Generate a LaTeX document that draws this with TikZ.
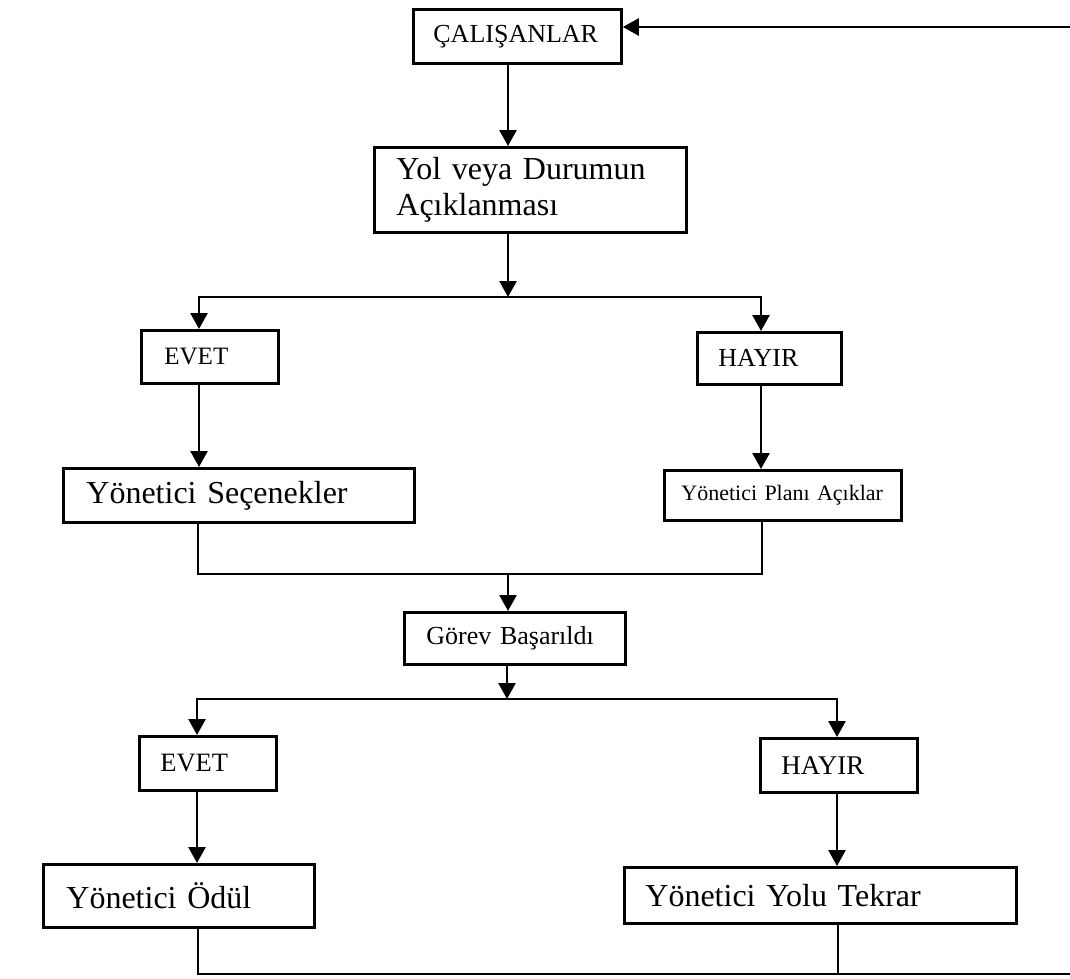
\documentclass[tikz,border=0pt]{standalone}
\usepackage{fontspec}
\setmainfont{Liberation Serif}
\usetikzlibrary{arrows.meta}
\tikzset{
  box/.style={draw, line width=2.8pt, anchor=north west, inner ysep=0pt, align=left},
  arr/.style={line width=2.6pt, -{Triangle[width=17pt,length=16pt]}},
  ln/.style={line width=2.6pt},
}
\newcommand{\fs}[1]{\fontsize{#1}{#1}\selectfont}
\begin{document}
\begin{tikzpicture}[x=1pt,y=-1pt]
\useasboundingbox (0,0) rectangle (1070,978);
\node[box, inner xsep=20pt, text width=168pt, minimum height=54pt, font=\fs{26}] (cal) at (412,8) {ÇALIŞANLAR};
\node[box, inner xsep=22pt, text width=268pt, minimum height=85pt, font={\fontsize{32}{36}\selectfont}] (yol) at (373,146) {Yol veya Durumun\\Açıklanması};
\node[box, inner xsep=23pt, text width=91pt, minimum height=53pt, font=\fs{25}] (evet1) at (140,329) {EVET};
\node[box, inner xsep=21pt, text width=102pt, minimum height=52pt, font=\fs{26}] (hayir1) at (696,331) {HAYIR};
\node[box, inner xsep=23pt, text width=305pt, minimum height=54pt, font=\fs{32}] (sec) at (62,467) {Yönetici Seçenekler};
\node[box, inner xsep=17pt, text width=203pt, minimum height=50pt, font=\fs{22}] (plan) at (663,469) {\mbox{Yönetici Planı Açıklar}};
\node[box, inner xsep=22pt, text width=177pt, minimum height=52pt, font=\fs{26}] (gorev) at (403,611) {Görev Başarıldı};
\node[box, inner xsep=21pt, text width=95pt, minimum height=54pt, font=\fs{26.5}] (evet2) at (138,735) {EVET};
\node[box, inner xsep=21pt, text width=115pt, minimum height=54pt, font=\fs{27}] (hayir2) at (759,737) {HAYIR};
\node[box, inner xsep=23pt, text width=225pt, minimum height=63pt, font=\fs{32}] (odul) at (42,863) {Yönetici Ödül};
\node[box, inner xsep=21pt, text width=350pt, minimum height=56pt, font=\fs{32}] (yolu) at (623,866) {Yönetici Yolu Tekrar};
\coordinate (j1) at (508,297);
\coordinate (l1) at (199,297);
\coordinate (r1) at (761,297);
\coordinate (m1) at (198,574);
\coordinate (m2) at (762,574);
\coordinate (mj) at (508,574);
\coordinate (j2) at (507,699);
\coordinate (l2) at (197,699);
\coordinate (r2) at (837,699);
\coordinate (b1) at (198,974);
\coordinate (b2) at (838,974);
\coordinate (rb) at (1078,974);
\coordinate (rt) at (1078,27);
\draw[arr] (j1 |- cal.south) -- (j1 |- yol.north);
\draw[arr] (j1 |- yol.south) -- (j1);
\draw[arr] (j1) -- (l1) -- (l1 |- evet1.north);
\draw[arr] (j1) -- (r1) -- (r1 |- hayir1.north);
\draw[arr] (l1 |- evet1.south) -- (l1 |- sec.north);
\draw[arr] (r1 |- hayir1.south) -- (r1 |- plan.north);
\draw[ln] (m1 |- sec.south) -- (m1) -- (m2) -- (m2 |- plan.south);
\draw[arr] (mj) -- (mj |- gorev.north);
\draw[arr] (j2 |- gorev.south) -- (j2);
\draw[arr] (j2) -- (l2) -- (l2 |- evet2.north);
\draw[arr] (j2) -- (r2) -- (r2 |- hayir2.north);
\draw[arr] (l2 |- evet2.south) -- (l2 |- odul.north);
\draw[arr] (r2 |- hayir2.south) -- (r2 |- yolu.north);
\draw[ln] (b2 |- yolu.south) -- (b2);
\draw[arr] (b1 |- odul.south) -- (b1) -- (rb) -- (rt) -- (cal.east |- rt);
\end{tikzpicture}
\end{document}
